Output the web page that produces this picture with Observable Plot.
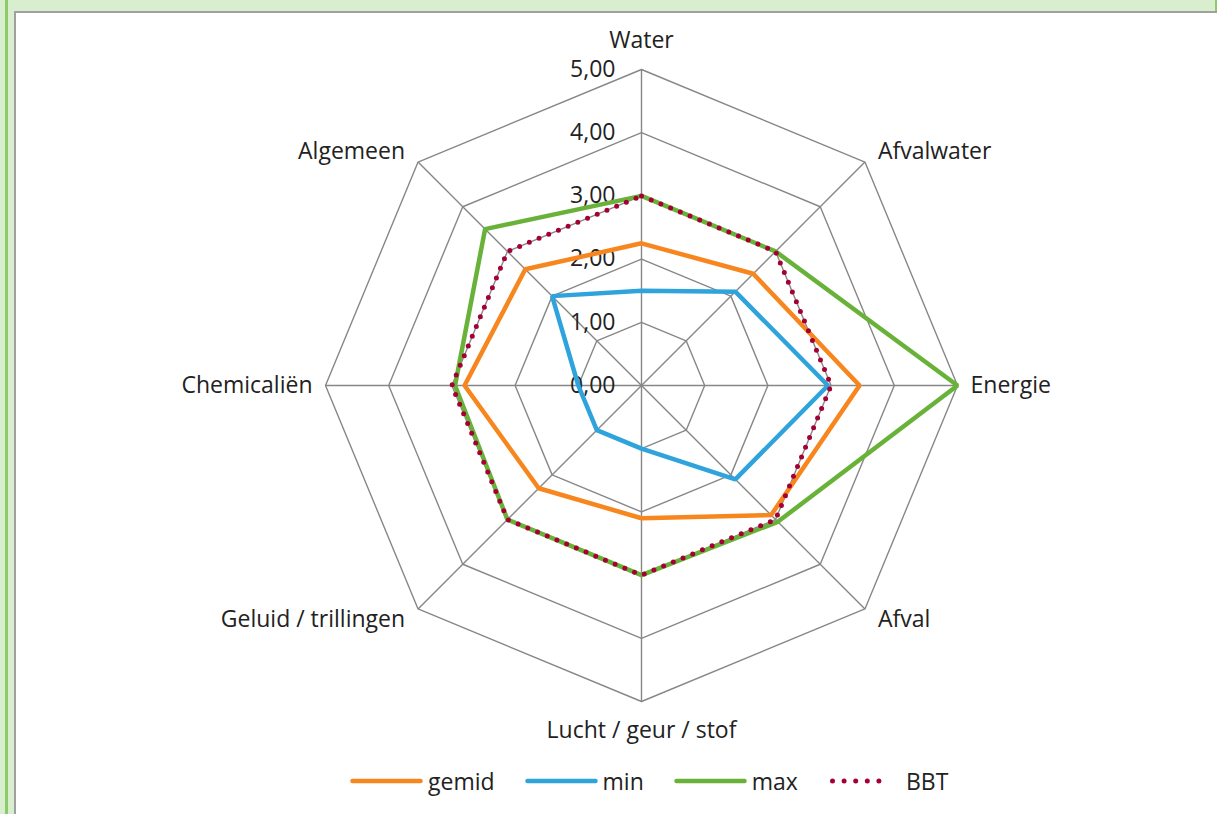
<!DOCTYPE html>
<html>
<head>
<meta charset="utf-8">
<script src="https://cdn.jsdelivr.net/npm/d3@7"></script>
<script src="https://cdn.jsdelivr.net/npm/@observablehq/plot@0.6"></script>
<style>
  html, body { margin: 0; padding: 0; }
  body { width: 1217px; height: 814px; overflow: hidden; position: relative; background: #d9edcf; font-family: "Open Sans", sans-serif; }
  #greenL { position: absolute; left: 5px; top: 0; width: 3px; height: 814px; background: #8dcb68; }
  #greenR { position: absolute; left: 1215px; top: 0; width: 2px; height: 12px; background: #8dcb68; }
  #panel { position: absolute; left: 14px; top: 11px; width: 1203px; height: 803px; background: #fff; border-left: 2px solid #a0a0a0; border-top: 2px solid #a0a0a0; box-sizing: border-box; }
  #chart { position: absolute; left: 0; top: 0; }
  #legend { position: absolute; top: 765px; left: 350px; display: flex; align-items: center; font-size: 23px; color: #222; line-height: 32px; }
  #legend .item { display: flex; align-items: center; margin-right: 30px; }
  #legend svg { margin-right: 5px; }
</style>
</head>
<body>
<div id="greenL"></div>
<div id="greenR"></div>
<div id="panel"></div>
<div id="chart"></div>
<div id="legend"></div>
<script>
const categories = ["Water", "Afvalwater", "Energie", "Afval", "Lucht / geur / stof", "Geluid / trillingen", "Chemicaliën", "Algemeen"];
const gemid = [2.25, 2.5, 3.45, 2.9, 2.1, 2.3, 2.8, 2.6];
const minV  = [1.5, 2.1, 2.95, 2.1, 1.0, 1.0, 1.0, 2.0];
const maxV  = [3.0, 3.0, 5.0, 3.05, 3.0, 3.0, 2.95, 3.5];
const bbt   = [3.0, 3.0, 3.0, 3.0, 3.0, 3.0, 3.0, 3.0];
const ticks = [0, 1, 2, 3, 4, 5];
const tickLabels = ["0,00", "1,00", "2,00", "3,00", "4,00", "5,00"];

const seriesNames = ["gemid", "min", "max", "BBT"];
const seriesValues = [gemid, minV, maxV, bbt];
const colors = { gemid: "#f7861e", min: "#2ea3dc", max: "#69b23a", BBT: "#a50034" };

const n = categories.length;
const ang = i => i * 2 * Math.PI / n;
const px = (i, r) => r * Math.sin(ang(i));
const py = (i, r) => r * Math.cos(ang(i));

const rMax = 5;
const cx = 641, cy = 385, R = 316;
const unit = R / rMax;

// grid
const gridPts = [];
for (const t of ticks.slice(1)) for (let i = 0; i < n; i++) gridPts.push({ level: t, x: px(i, t), y: py(i, t) });
const spokes = categories.map((c, i) => ({ x1: 0, y1: 0, x2: px(i, rMax), y2: py(i, rMax) }));

// series
const series = [];
seriesNames.forEach((s, k) => seriesValues[k].forEach((v, i) => series.push({ s, i, x: px(i, v), y: py(i, v) })));

// category labels
const labels = categories.map((c, i) => {
  const s = Math.sin(ang(i)), co = Math.cos(ang(i));
  const sgn = Math.abs(s) < 0.01 ? 0 : Math.sign(s);
  const offx = sgn * 13;
  const offy = -Math.pow(co, 3) * 29;
  return { c, anchor: sgn > 0 ? "start" : sgn < 0 ? "end" : "middle", x: px(i, rMax) + offx / unit, y: py(i, rMax) - offy / unit };
});

const lineMark = (s) => Plot.line(series.filter(d => d.s === s), {
  x: "x", y: "y", curve: "linear-closed", stroke: colors[s],
  strokeWidth: s === "BBT" ? 5 : 4.5,
  strokeLinecap: "round", strokeLinejoin: s === "BBT" ? "round" : "miter",
  strokeDasharray: s === "BBT" ? "0 10.5" : null
});

const plot = Plot.plot({
  width: 1217, height: 814,
  margin: 0,
  style: { background: "transparent", fontFamily: "'Open Sans', sans-serif", fontSize: "23px", color: "#222" },
  x: { domain: [-rMax, rMax], range: [cx - R, cx + R], axis: null },
  y: { domain: [-rMax, rMax], range: [cy + R, cy - R], axis: null },
  marks: [
    Plot.line(gridPts, { x: "x", y: "y", z: "level", curve: "linear-closed", stroke: "#878787", strokeWidth: 1.4 }),
    Plot.link(spokes, { x1: "x1", y1: "y1", x2: "x2", y2: "y2", stroke: "#878787", strokeWidth: 1.4 }),
    Plot.text(ticks, { x: () => 0, y: d => d, text: (d, i) => tickLabels[i], textAnchor: "end", dx: -26, fontSize: 23, fill: "#222" }),
    ...["start", "middle", "end"].map(a => Plot.text(labels.filter(d => d.anchor === a), { x: "x", y: "y", text: "c", textAnchor: a, fontSize: 23, fill: "#222" })),
    lineMark("gemid"), lineMark("min"), lineMark("max"), lineMark("BBT")
  ]
});
document.getElementById("chart").appendChild(plot);

// legend
const lg = document.getElementById("legend");
seriesNames.forEach(s => {
  const item = document.createElement("div");
  item.className = "item";
  const dotted = s === "BBT";
  item.innerHTML = `<svg width="73" height="12"><line x1="${dotted ? 4.5 : 2.5}" y1="6" x2="${dotted ? 62.5 : 70.5}" y2="6" stroke="${colors[s]}" stroke-width="${dotted ? 5 : 4.5}" stroke-linecap="round" ${dotted ? 'stroke-dasharray="0 11.6"' : ''}/></svg><span>${s}</span>`;
  lg.appendChild(item);
});
</script>
</body>
</html>
